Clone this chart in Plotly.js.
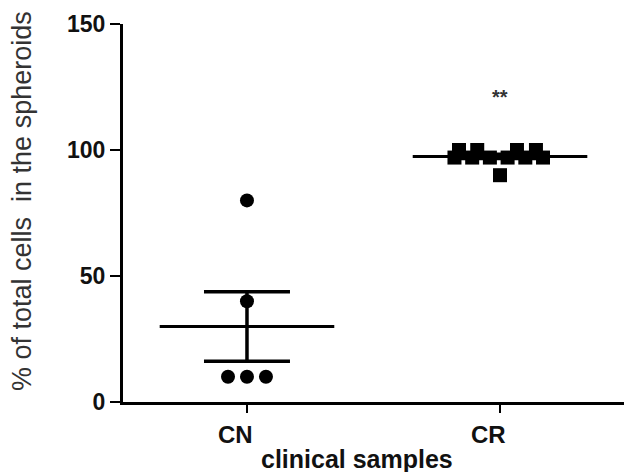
<!DOCTYPE html>
<html>
<head>
<meta charset="utf-8">
<script src="https://cdn.plot.ly/plotly-3.0.1.min.js"></script>
<style>html,body{margin:0;padding:0;background:#fff;}#chart{width:624px;height:472px;}</style>
</head>
<body>
<div id="chart"></div>
<script>
var categories = ["CN", "CR"];
var cnValues = [80, 40, 10, 10, 10];
var cnJitter = [0, 0, -0.075, 0, 0.075];
var crValues = [100, 100, 100, 100, 97, 97, 97, 97, 97, 97, 90];
var crJitter = [-0.162, -0.09, 0.067, 0.142, -0.18, -0.11, -0.04, 0.03, 0.1, 0.17, 0.0];
var yTicks = [0, 50, 100, 150];
var sigLabel = "**";
var sigY = 121;
var xTitle = "clinical samples";
var yTitle = "% of total cells  in the spheroids";

var L = 123, T = 24, W = 501, H = 378;
function px(xp) { return (xp - L) / W; }
function py(yp) { return (T + H - yp) / H; }

function stats(v) {
  var n = v.length, m = v.reduce(function(a, b){return a + b;}, 0) / n;
  var ss = v.reduce(function(a, b){return a + (b - m) * (b - m);}, 0);
  var sd = Math.sqrt(ss / (n - 1));
  return {mean: m, sem: sd / Math.sqrt(n)};
}
var groups = [cnValues, crValues];
var jit = [cnJitter, crJitter];
var symbols = ["circle", "square"];
var traces = [];
groups.forEach(function(vals, i) {
  var st = stats(vals);
  traces.push({
    x: vals.map(function(_, k){return i + jit[i][k];}), y: vals,
    type: "scatter", mode: "markers",
    marker: {symbol: symbols[i], size: 14, color: "#000"},
    hoverinfo: "skip", showlegend: false
  });
  traces.push({
    x: [i - 0.345, i + 0.345], y: [st.mean, st.mean],
    type: "scatter", mode: "lines", line: {color: "#000", width: 3},
    hoverinfo: "skip", showlegend: false
  });
  traces.push({
    x: [i], y: [st.mean], type: "scatter", mode: "markers",
    marker: {size: 1, color: "rgba(0,0,0,0)"},
    error_y: {type: "data", array: [st.sem], visible: true, color: "#000", thickness: 3.5, width: 43},
    hoverinfo: "skip", showlegend: false
  });
});

var boldFont = {family: "Arial, Liberation Sans", size: 23, color: "#111", weight: "bold"};
var annotations = [
  {x: 1, y: sigY, xref: "x", yref: "y", text: sigLabel, showarrow: false,
   font: {family: "Arial, Liberation Sans", size: 20, color: "#333", weight: "bold"}},
  {x: px(357), y: py(459), xref: "paper", yref: "paper", text: xTitle, showarrow: false,
   xanchor: "center", yanchor: "middle",
   font: {family: "Arial, Liberation Sans", size: 25, color: "#111", weight: "bold"}},
  {x: px(22), y: py(201), xref: "paper", yref: "paper", text: yTitle, showarrow: false,
   textangle: -90, xanchor: "center", yanchor: "middle",
   font: {family: "Arial, Liberation Sans", size: 27, color: "#333"}}
];
categories.forEach(function(c, i) {
  annotations.push({x: i - 0.045, y: py(434), xref: "x", yref: "paper", text: c, showarrow: false,
    xanchor: "center", yanchor: "middle",
    font: {family: "Arial, Liberation Sans", size: 24, color: "#111", weight: "bold"}});
});

var layout = {
  width: 624, height: 472,
  margin: {l: L, r: 0, t: T, b: 472 - T - H},
  paper_bgcolor: "#fff", plot_bgcolor: "#fff",
  showlegend: false,
  xaxis: {
    range: [-0.49, 1.49], tickvals: [0, 1], showticklabels: false,
    showgrid: false, zeroline: false, showline: true, linecolor: "#000", linewidth: 3,
    ticks: "outside", ticklen: 8, tickwidth: 2.5, tickcolor: "#000"
  },
  yaxis: {
    range: [0, 150], tickvals: yTicks,
    showgrid: false, zeroline: false, showline: true, linecolor: "#000", linewidth: 3,
    ticks: "outside", ticklen: 10, tickwidth: 2.5, tickcolor: "#000",
    tickfont: boldFont
  },
  annotations: annotations
};

Plotly.newPlot("chart", traces, layout, {displayModeBar: false, staticPlot: true});
</script>
</body>
</html>
